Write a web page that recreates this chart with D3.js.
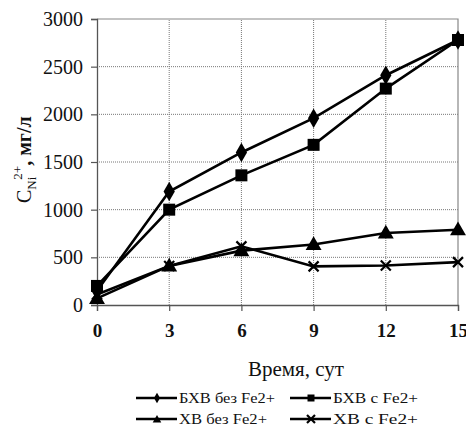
<!DOCTYPE html>
<html><head><meta charset="utf-8">
<script src="https://cdn.jsdelivr.net/npm/d3@7"></script>
</head><body style="margin:0;background:#fff">
<svg id="c" width="466" height="425" font-family="Times New Roman"></svg>
<script>
const days = [0, 3, 6, 9, 12, 15];
const yTicks = [0, 500, 1000, 1500, 2000, 2500, 3000];
const seriesNames = ["БХВ без Fe2+", "БХВ с Fe2+", "ХВ без Fe2+", "ХВ с Fe2+"];
const bhvNoFe = [150, 1190, 1600, 1960, 2410, 2780];
const bhvFe = [200, 1000, 1360, 1680, 2270, 2780];
const hvNoFe = [70, 410, 570, 635, 755, 790];
const hvFe = [110, 410, 615, 405, 415, 450];
const markers = ["diamond", "square", "triangle", "x"];

const svg = d3.select("#c");
const xs = d3.scaleLinear().domain([0, 15]).range([97, 458]);
const ys = d3.scaleLinear().domain([0, 3000]).range([305, 19]);
const FF = "Times New Roman";

// grid
svg.append("g").selectAll("line").data(yTicks.filter(v => v > 0 && v < 3000)).enter().append("line")
  .attr("x1", xs(0)).attr("x2", xs(15)).attr("y1", d => ys(d)).attr("y2", d => ys(d))
  .attr("stroke", "#777").attr("stroke-width", 1).attr("stroke-dasharray", "1,1");
svg.append("g").selectAll("line").data(days.filter(v => v > 0 && v < 15)).enter().append("line")
  .attr("y1", ys(0)).attr("y2", ys(3000)).attr("x1", d => xs(d)).attr("x2", d => xs(d))
  .attr("stroke", "#777").attr("stroke-width", 1).attr("stroke-dasharray", "1,1");
svg.append("path").attr("d", `M${xs(0)},${ys(3000)}H${xs(15)}V${ys(0)}`)
  .attr("fill", "none").attr("stroke", "#888").attr("stroke-width", 1.2);

// axes
const ya = svg.append("g").attr("transform", `translate(${xs(0)},0)`)
  .call(d3.axisLeft(ys).tickValues(yTicks).tickSize(6).tickPadding(8).tickFormat(d3.format("d")));
const xa = svg.append("g").attr("transform", `translate(0,${ys(0)})`)
  .call(d3.axisBottom(xs).tickValues(days).tickSize(6).tickPadding(10));
[ya, xa].forEach(a => {
  a.attr("font-family", FF).attr("font-size", 19);
  a.select(".domain").attr("stroke", "#555").attr("stroke-width", 1.3);
  a.selectAll(".tick line").attr("stroke", "#555").attr("stroke-width", 1.2);
  a.selectAll("text").attr("font-family", FF).attr("font-weight", "bold").attr("fill", "#111");
});
ya.selectAll("text").attr("font-weight", "normal").attr("font-size", 20);
xa.selectAll("text").attr("font-size", 19).attr("dy", "0.85em");

// axis titles
svg.append("text").attr("x", 296).attr("y", 376).attr("text-anchor", "middle")
  .attr("font-family", FF).attr("font-size", 21).attr("fill", "#111").text("Время, сут");
const yt = svg.append("text").attr("transform", "translate(31,203) rotate(-90)")
  .attr("font-family", FF).attr("font-size", 20).attr("fill", "#111");
yt.append("tspan").text("C");
yt.append("tspan").attr("font-size", 13).attr("dy", 5).text("Ni");
yt.append("tspan").attr("font-size", 13).attr("dy", -14).attr("dx", -3).text("2+");
yt.append("tspan").attr("dy", 9).attr("font-weight", "bold").text(", мг/л");

// series
const data = [bhvNoFe, bhvFe, hvNoFe, hvFe];
const line = d3.line().x((d, i) => xs(days[i])).y(d => ys(d));
function drawMarker(sel, type, cx, cy, s) {
  if (type === "x") {
    sel.append("path").attr("d", `M${cx - s},${cy - s}L${cx + s},${cy + s}M${cx - s},${cy + s}L${cx + s},${cy - s}`)
      .attr("stroke", "#000").attr("stroke-width", 2.2).attr("fill", "none");
    return;
  }
  const map = { diamond: d3.symbolDiamond, square: d3.symbolSquare, triangle: d3.symbolTriangle };
  const area = type === "square" ? (2 * s) * (2 * s) : s * s * 2.6;
  sel.append("path").attr("d", d3.symbol().type(map[type]).size(area)())
    .attr("transform", `translate(${cx},${cy + (type === "triangle" ? 1 : 0)})`).attr("fill", "#000");
}
const order = [2, 3, 1, 0];
order.forEach(k => {
  svg.append("path").attr("d", line(data[k])).attr("fill", "none").attr("stroke", "#000").attr("stroke-width", 2.6);
});
order.forEach(k => {
  const mg = svg.append("g");
  data[k].forEach((v, i) => drawMarker(mg, markers[k], xs(days[i]), ys(v), markers[k] === "square" ? 6 : markers[k] === "x" ? 5 : 6.5));
});

// legend
const legPos = [[136, 398], [290, 398], [136, 419], [290, 419]];
const legLen = [96, 85, 88, 85];
seriesNames.forEach((n, k) => {
  const [lx, ly] = legPos[k];
  const lg = svg.append("g");
  lg.append("line").attr("x1", lx).attr("x2", lx + 41).attr("y1", ly).attr("y2", ly).attr("stroke", "#000").attr("stroke-width", 2.4);
  drawMarker(lg, markers[k], lx + 21, ly, markers[k] === "x" ? 4 : 3.5);
  lg.append("text").attr("x", lx + 43).attr("y", ly + 5).attr("font-family", FF).attr("font-size", 15)
    .attr("fill", "#111").attr("textLength", legLen[k]).attr("lengthAdjust", "spacingAndGlyphs").text(n);
});
</script>
</body></html>
